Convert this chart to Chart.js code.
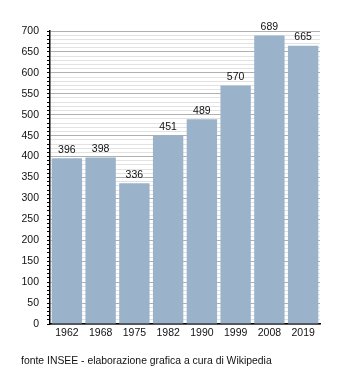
<!DOCTYPE html>
<html>
<head>
<meta charset="utf-8">
<script src="https://cdn.jsdelivr.net/npm/chart.js@4.4.1/dist/chart.umd.min.js"></script>
<style>
  html, body { margin: 0; padding: 0; background: #fff; }
  #wrap { position: relative; width: 350px; height: 373px; }
  #note {
    position: absolute; left: 21px; top: 355px;
    font: 10.4px "Liberation Sans", Arial, sans-serif; color: #111;
    white-space: nowrap;
  }
</style>
</head>
<body>
<div id="wrap">
  <canvas id="c" width="350" height="373"></canvas>
  <div id="note">fonte INSEE - elaborazione grafica a cura di Wikipedia</div>
</div>
<script>
// abitanti censiti per anno
const years = ['1962', '1968', '1975', '1982', '1990', '1999', '2008', '2019'];
const residents = [396, 398, 336, 451, 489, 570, 689, 665];
const yMax = 700;
const majorStep = 50;
const minorStep = 10;

const FONT = '"Liberation Sans", Arial, sans-serif';

// numbers over each bar
const barValues = {
  id: 'barValues',
  afterDatasetsDraw(chart) {
    const ctx = chart.ctx;
    const meta = chart.getDatasetMeta(0);
    ctx.save();
    ctx.font = '10.5px ' + FONT;
    ctx.fillStyle = '#111';
    ctx.textAlign = 'center';
    ctx.textBaseline = 'bottom';
    meta.data.forEach((bar, i) => {
      ctx.fillText(String(residents[i]), bar.x, bar.y - 3);
    });
    ctx.restore();
  }
};

new Chart(document.getElementById('c'), {
  type: 'bar',
  data: {
    labels: years,
    datasets: [{
      data: residents,
      backgroundColor: '#9ab3cb',
      borderWidth: 0,
      barPercentage: 0.9,
      categoryPercentage: 1.0
    }]
  },
  options: {
    responsive: false,
    animation: false,
    layout: { padding: { top: 31, right: 30, left: 0, bottom: 0 } },
    plugins: { legend: { display: false }, tooltip: { enabled: false } },
    scales: {
      x: {
        grid: { display: false, drawTicks: false },
        border: { color: '#000', width: 1.5 },
        ticks: { color: '#111', font: { family: FONT, size: 10.5 }, padding: 3, maxRotation: 0 },
        afterFit(scale) { scale.height = 49; }
      },
      y: {
        min: 0,
        max: yMax,
        border: { color: '#000', width: 1.5 },
        grid: {
          color: (c) => (c.tick && c.tick.value % majorStep === 0) ? '#b0b0b0' : '#e2e2e2',
          lineWidth: 1,
          drawTicks: true,
          tickLength: 3,
          tickColor: '#000'
        },
        ticks: {
          stepSize: minorStep,
          autoSkip: false,
          color: '#111',
          font: { family: FONT, size: 10.5 },
          padding: 8,
          callback: (v) => (v % majorStep === 0 ? String(v) : '')
        },
        afterFit(scale) { scale.width = 50; }
      }
    }
  },
  plugins: [barValues]
});
</script>
</body>
</html>
